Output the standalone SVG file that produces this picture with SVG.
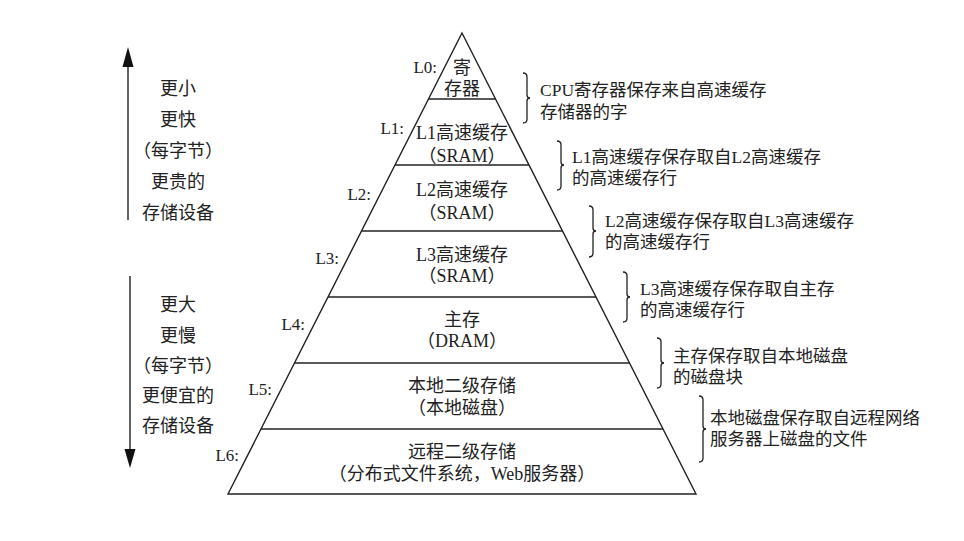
<svg xmlns="http://www.w3.org/2000/svg" width="964" height="541" viewBox="0 0 964 541">
<style>
text{font-family:"Liberation Serif","Noto Sans CJK SC",serif;fill:#222;}
.c{font-size:18px;text-anchor:middle;}
.lb{font-size:17px;text-anchor:end;}
.r{font-size:17.5px;}
.ln{stroke:#222;stroke-width:1.4;fill:none;}
.br{stroke:#222;stroke-width:1.3;fill:none;}
</style>
<rect width="964" height="541" fill="#fff"/>
<g id="connectors">
<g id="up-arrow"><line class="ln" x1="128" y1="220" x2="128" y2="62"/><polygon points="128,47 122.5,67 133.5,67" fill="#111"/></g>
<g id="down-arrow"><line class="ln" x1="130" y1="276" x2="130" y2="452"/><polygon points="130,468 124.5,449 135.5,449" fill="#111"/></g>
</g>
<g id="pyramid">
<polygon class="ln" points="462,33 696,494 228,494"/>
<line class="ln" x1="428.5" y1="99" x2="495.5" y2="99"/>
<line class="ln" x1="395" y1="165" x2="529" y2="165"/>
<line class="ln" x1="361.5" y1="231" x2="562.5" y2="231"/>
<line class="ln" x1="328" y1="297" x2="596" y2="297"/>
<line class="ln" x1="294.5" y1="363" x2="629.5" y2="363"/>
<line class="ln" x1="261" y1="429" x2="663" y2="429"/>
</g>
<g id="L0"><text class="lb" x="437" y="73">L0:</text><text class="c" x="462" y="74">寄</text><text class="c" x="462" y="95">存器</text></g>
<g id="L1"><text class="lb" x="404" y="134">L1:</text><text class="c" x="462" y="139">L1高速缓存</text><text class="c" x="462" y="162">（SRAM）</text></g>
<g id="L2"><text class="lb" x="371" y="200">L2:</text><text class="c" x="462" y="196">L2高速缓存</text><text class="c" x="462" y="219">（SRAM）</text></g>
<g id="L3"><text class="lb" x="339" y="264">L3:</text><text class="c" x="462" y="261">L3高速缓存</text><text class="c" x="462" y="282">（SRAM）</text></g>
<g id="L4"><text class="lb" x="305" y="330">L4:</text><text class="c" x="462" y="326">主存</text><text class="c" x="462" y="347">（DRAM）</text></g>
<g id="L5"><text class="lb" x="272" y="395">L5:</text><text class="c" x="462" y="392">本地二级存储</text><text class="c" x="462" y="414">（本地磁盘）</text></g>
<g id="L6"><text class="lb" x="239" y="461">L6:</text><text class="c" x="462" y="458">远程二级存储</text><text class="c" x="462" y="480">（分布式文件系统，Web服务器）</text></g>
<g id="left-top">
<text class="c" x="178" y="95">更小</text>
<text class="c" x="178" y="126">更快</text>
<text class="c" x="178" y="157">（每字节）</text>
<text class="c" x="178" y="188">更贵的</text>
<text class="c" x="178" y="219">存储设备</text>
</g>
<g id="left-bottom">
<text class="c" x="178" y="311">更大</text>
<text class="c" x="178" y="342">更慢</text>
<text class="c" x="178" y="372">（每字节）</text>
<text class="c" x="178" y="402">更便宜的</text>
<text class="c" x="178" y="432">存储设备</text>
</g>
<g id="desc0">
<path class="br" d="M523,73 Q527,73 527,77 L527,95 Q527,98 530,98 Q527,98 527,101 L527,119 Q527,123 523,123"/>
<text class="r" x="540" y="96">CPU寄存器保存来自高速缓存</text><text class="r" x="540" y="118">存储器的字</text>
</g>
<g id="desc1">
<path class="br" d="M557,141 Q561,141 561,145 L561,162 Q561,165 564,165 Q561,165 561,168 L561,186 Q561,190 557,190"/>
<text class="r" x="572" y="163">L1高速缓存保存取自L2高速缓存</text><text class="r" x="572" y="184">的高速缓存行</text>
</g>
<g id="desc2">
<path class="br" d="M589,206 Q593,206 593,210 L593,228 Q593,231 596,231 Q593,231 593,234 L593,253 Q593,257 589,257"/>
<text class="r" x="605" y="227">L2高速缓存保存取自L3高速缓存</text><text class="r" x="605" y="248">的高速缓存行</text>
</g>
<g id="desc3">
<path class="br" d="M623,272 Q627,272 627,276 L627,294 Q627,297 630,297 Q627,297 627,300 L627,318 Q627,322 623,322"/>
<text class="r" x="640" y="295">L3高速缓存保存取自主存</text><text class="r" x="640" y="316">的高速缓存行</text>
</g>
<g id="desc4">
<path class="br" d="M657,338 Q661,338 661,342 L661,360 Q661,363 664,363 Q661,363 661,366 L661,384 Q661,388 657,388"/>
<text class="r" x="673" y="362">主存保存取自本地磁盘</text><text class="r" x="673" y="383">的磁盘块</text>
</g>
<g id="desc5">
<path class="br" d="M699,396 Q703,396 703,400 L703,426 Q703,429 706,429 Q703,429 703,432 L703,458 Q703,462 699,462"/>
<text class="r" x="710" y="424">本地磁盘保存取自远程网络</text><text class="r" x="710" y="445">服务器上磁盘的文件</text>
</g>
</svg>
